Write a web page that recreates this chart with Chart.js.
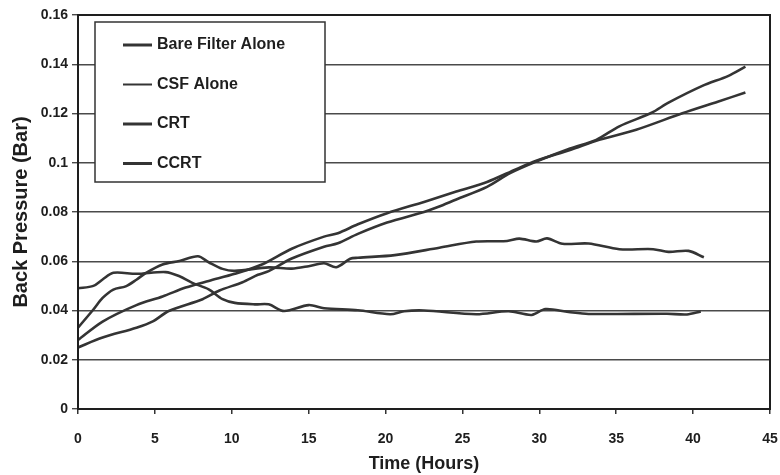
<!DOCTYPE html>
<html>
<head>
<meta charset="utf-8">
<script src="https://cdn.jsdelivr.net/npm/chart.js@4.4.0/dist/chart.umd.min.js"></script>
<style>
  body { margin: 0; background: #fff; }
  #wrap { width: 780px; height: 475px; }
</style>
</head>
<body>
<div id="wrap"><canvas id="bpChart" width="780" height="475"></canvas></div>
<script>
// series names as in the legend
const seriesNames = ['Bare Filter Alone', 'CSF Alone', 'CRT', 'CCRT'];

// Bare Filter Alone
const bareHours = [0, 1.6, 3.8, 4.9, 5.9, 8.1, 9.2, 10.7, 11.7, 12.4, 13.9, 16, 16.9, 18.2, 20.1, 22.5, 23.4, 24.6, 26.6, 28.1, 29.8, 32, 33.7, 35.2, 37.3, 38.4, 40.6, 42.3, 43.4];
const bareVals  = [0.025, 0.029, 0.033, 0.0357, 0.0398, 0.0446, 0.0481, 0.0515, 0.0545, 0.056, 0.0611, 0.0659, 0.0673, 0.0711, 0.0757, 0.080, 0.082, 0.0851, 0.0902, 0.0958, 0.1005, 0.1058, 0.1093, 0.1148, 0.1203, 0.1244, 0.1312, 0.1353, 0.139];

// CSF Alone
const csfHours = [0, 1.6, 3.8, 5.5, 7.0, 8.5, 10.2, 12.0, 13.9, 16, 16.9, 18.2, 20.1, 22.5, 24.6, 26.6, 28.5, 29.8, 32, 33.9, 36.3, 39.3, 41.6, 43.4];
const csfVals  = [0.028, 0.0355, 0.0422, 0.0457, 0.0493, 0.052, 0.0549, 0.0588, 0.0651, 0.070, 0.0714, 0.075, 0.0795, 0.0841, 0.0883, 0.0922, 0.0974, 0.1008, 0.1052, 0.1093, 0.1134, 0.1201, 0.1248, 0.1285];

// CRT
const crtHours = [0, 1.0, 1.6, 2.3, 3.1, 3.8, 4.4, 5.5, 6.6, 7.8, 8.5, 9.4, 10.2, 12.4, 13.9, 15.0, 16.0, 16.8, 17.7, 18.2, 20.6, 23.5, 25.9, 27.9, 28.7, 29.8, 30.5, 31.5, 33.2, 35.2, 37.4, 38.4, 39.7, 40.7];
const crtVals  = [0.033, 0.0404, 0.0451, 0.0485, 0.0498, 0.0525, 0.0552, 0.0587, 0.0601, 0.062, 0.0596, 0.0569, 0.0561, 0.0575, 0.057, 0.058, 0.0592, 0.0576, 0.061, 0.0614, 0.0625, 0.0655, 0.068, 0.0682, 0.0692, 0.068, 0.0693, 0.0671, 0.0672, 0.0649, 0.0649, 0.0638, 0.0642, 0.0616];

// CCRT
const ccrtHours = [0, 1.0, 1.6, 2.3, 3.8, 5.7, 6.6, 7.4, 8.5, 9.4, 10.2, 11.5, 12.4, 13.4, 15.0, 16.0, 18.2, 20.3, 21.2, 22.5, 25.9, 28.0, 29.5, 30.4, 31.9, 33.2, 38.3, 39.6, 40.5];
const ccrtVals  = [0.049, 0.050, 0.0526, 0.0553, 0.0549, 0.0556, 0.0539, 0.0513, 0.0486, 0.0446, 0.0431, 0.0425, 0.0425, 0.0398, 0.0422, 0.0409, 0.0401, 0.0385, 0.0397, 0.040, 0.0385, 0.0397, 0.0382, 0.0406, 0.0394, 0.0386, 0.0387, 0.0384, 0.0396];

// axis tick labels
const xTickLabels = ['0', '5', '10', '15', '20', '25', '30', '35', '40', '45'];
const yTickLabels = ['0', '0.02', '0.04', '0.06', '0.08', '0.1', '0.12', '0.14', '0.16'];

const toPoints = (hrs, vals) => hrs.map((h, i) => ({ x: h, y: vals[i] }));
const lineColor = '#343434';

function makeSet(label, hrs, vals) {
    return {
        label: label,
        data: toPoints(hrs, vals),
        borderColor: lineColor,
        borderWidth: 2.6,
        pointRadius: 0,
        tension: 0.3,
        fill: false
    };
}

// frame round the plot + legend box inside it
const framePlugin = {
    id: 'frame',
    afterDatasetsDraw(chart) {
        const c = chart.ctx;
        const a = chart.chartArea;
        c.save();
        c.strokeStyle = '#1e1e1e';
        c.lineWidth = 2;
        c.strokeRect(a.left, a.top, a.right - a.left, a.bottom - a.top);

        // legend
        const bx = a.left + 17, by = a.top + 7, bw = 230, bh = 160;
        c.fillStyle = '#fff';
        c.fillRect(bx, by, bw, bh);
        c.lineWidth = 1.5;
        c.strokeStyle = '#333';
        c.strokeRect(bx, by, bw, bh);
        c.font = 'bold 16px "Liberation Sans", Arial, sans-serif';
        c.textBaseline = 'middle';
        c.fillStyle = '#1e1e1e';
        chart.data.datasets.forEach((ds, i) => {
            const y = by + 23 + i * 39.5;
            c.beginPath();
            c.moveTo(bx + 28, y);
            c.lineTo(bx + 57, y);
            c.strokeStyle = lineColor;
            c.lineWidth = i === 1 ? 2 : 3;
            c.stroke();
            c.fillText(ds.label, bx + 62, y);
        });
        c.restore();
    }
};

const ctx = document.getElementById('bpChart').getContext('2d');
const bpChart = new Chart(ctx, {
    type: 'line',
    data: {
        datasets: [
            makeSet(seriesNames[0], bareHours, bareVals),
            makeSet(seriesNames[1], csfHours, csfVals),
            makeSet(seriesNames[2], crtHours, crtVals),
            makeSet(seriesNames[3], ccrtHours, ccrtVals)
        ]
    },
    options: {
        responsive: false,
        animation: false,
        layout: { padding: { top: 15, right: 10, left: 0, bottom: 0 } },
        plugins: {
            legend: { display: false },
            tooltip: { enabled: false }
        },
        scales: {
            x: {
                type: 'linear',
                min: 0,
                max: 45,
                afterFit: s => { s.height = 66; s.paddingLeft = 0; s.paddingRight = 0; },
                afterBuildTicks: s => { s.ticks = xTickLabels.map(v => ({ value: +v })); },
                ticks: {
                    padding: 17,
                    color: '#1e1e1e',
                    font: { family: '"Liberation Sans", Arial, sans-serif', size: 14, weight: 'bold' },
                    callback: (v, i) => xTickLabels[i]
                },
                grid: { drawOnChartArea: false, tickLength: 5, color: '#333', lineWidth: 1.5 },
                border: { color: '#1e1e1e', width: 2 },
                title: {
                    display: true,
                    text: 'Time (Hours)',
                    color: '#1e1e1e',
                    padding: { top: 0, bottom: 0 },
                    font: { family: '"Liberation Sans", Arial, sans-serif', size: 18, weight: 'bold' }
                }
            },
            y: {
                min: 0,
                max: 0.16,
                afterFit: s => { s.width = 78; },
                afterBuildTicks: s => { s.ticks = yTickLabels.map(v => ({ value: +v })); },
                ticks: {
                    padding: 4,
                    color: '#1e1e1e',
                    font: { family: '"Liberation Sans", Arial, sans-serif', size: 14, weight: 'bold' },
                    callback: (v, i) => yTickLabels[i]
                },
                grid: { color: '#4a4a4a', lineWidth: 1.4, tickLength: 6 },
                border: { color: '#1e1e1e', width: 2 },
                title: {
                    display: true,
                    text: 'Back Pressure (Bar)',
                    color: '#1e1e1e',
                    padding: { top: 9, bottom: 0 },
                    font: { family: '"Liberation Sans", Arial, sans-serif', size: 20, weight: 'bold' }
                }
            }
        }
    },
    plugins: [framePlugin]
});
</script>
</body>
</html>
